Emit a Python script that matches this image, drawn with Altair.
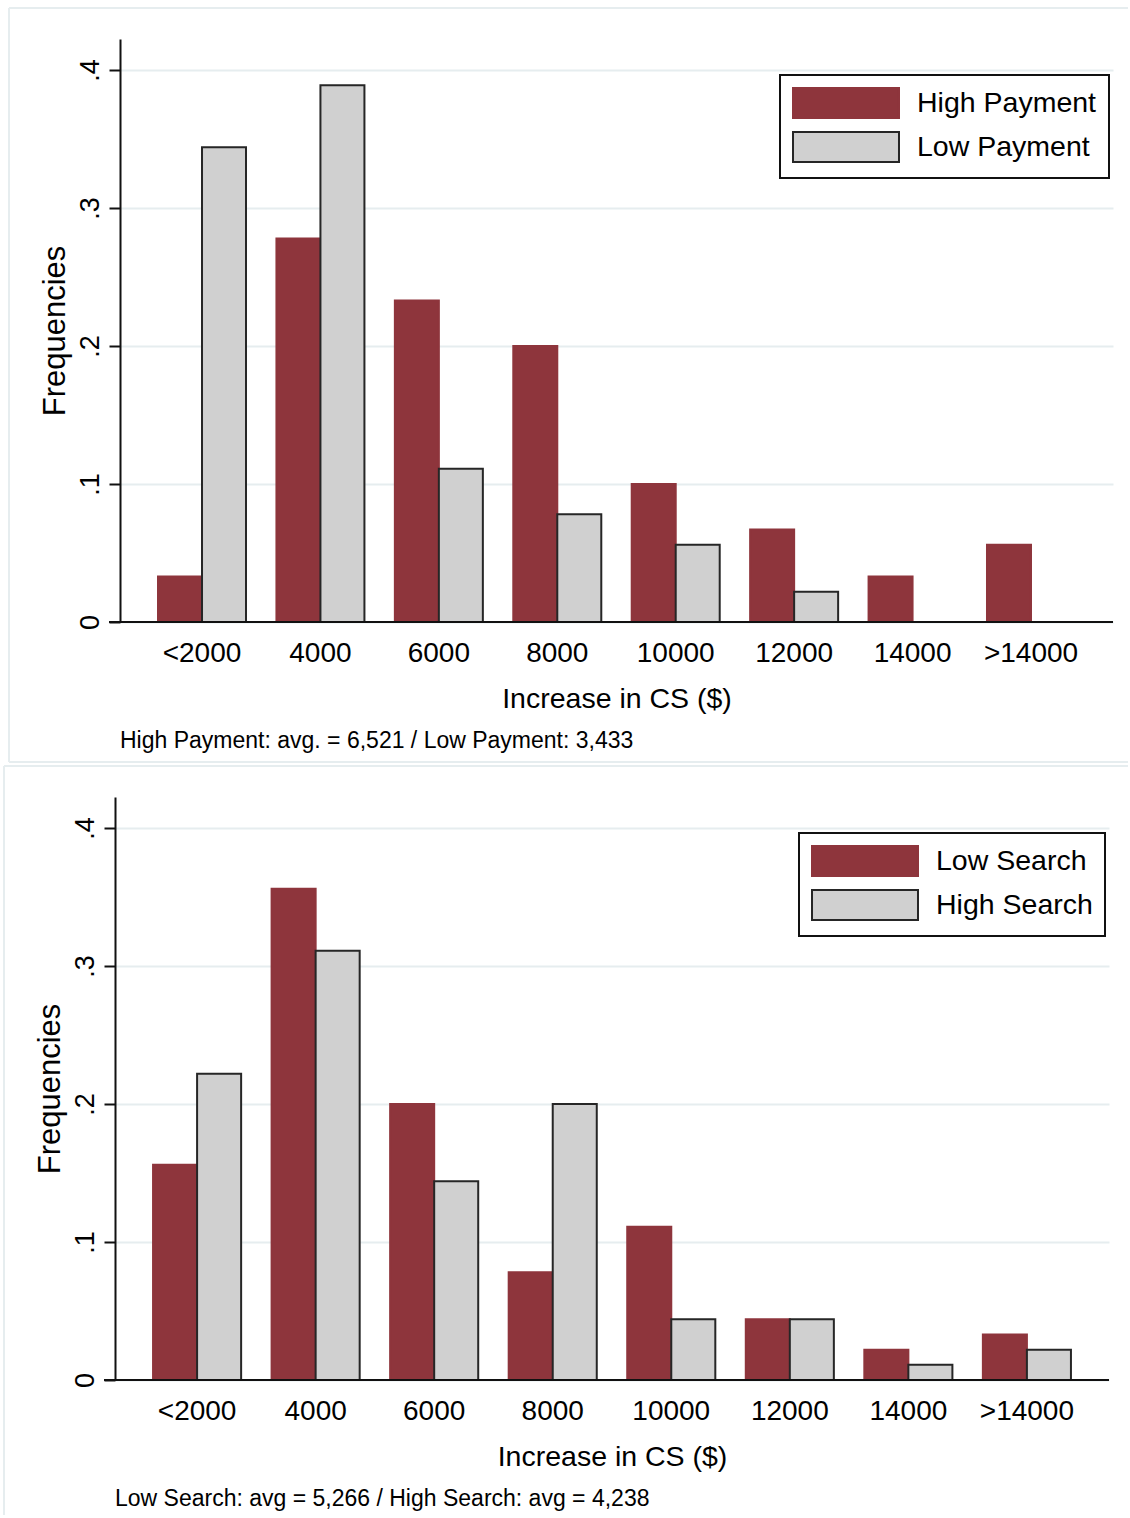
import altair as alt
import pandas as pd

# Class intervals of the increase in consumer surplus
bins = ["<2000", "4000", "6000", "8000", "10000", "12000", "14000", ">14000"]

# Upper panel: payment treatments
pay_groups = ["High Payment", "Low Payment"]
pay_high = [0.033, 0.278, 0.233, 0.200, 0.100, 0.067, 0.033, 0.056]
pay_low = [0.344, 0.389, 0.111, 0.078, 0.056, 0.022, 0.0, 0.0]
pay_note = "High Payment: avg. = 6,521 / Low Payment: 3,433"

# Lower panel: search treatments
search_groups = ["Low Search", "High Search"]
search_low = [0.156, 0.356, 0.200, 0.078, 0.111, 0.044, 0.022, 0.033]
search_high = [0.222, 0.311, 0.144, 0.200, 0.044, 0.044, 0.011, 0.022]
search_note = "Low Search: avg = 5,266 / High Search: avg = 4,238"

y_ticks = [0, 0.1, 0.2, 0.3, 0.4]

RED = "#8e353c"
GRAY = "#d0d0d0"
EDGE = "#262626"
FRAME = "#e6edef"
FONT = "Liberation Sans"
SWATCH = "M-3.533,-1H3.533V1H-3.533Z"
PLOT_H = 583


def long_table(groups, first, second):
    rows = []
    for i, b in enumerate(bins):
        rows.append({"bin": b, "group": groups[0], "freq": first[i]})
        rows.append({"bin": b, "group": groups[1], "freq": second[i]})
    return pd.DataFrame(rows)


def one_row():
    return pd.DataFrame({"k": [0]})


def panel(groups, first, second, note, width, axis_shift, x_range,
          legend_x, frame_left, frame_top, frame_bottom, note_x):
    data = long_table(groups, first, second)

    legend = alt.Legend(
        title=None, orient="none", legendX=legend_x, legendY=36,
        symbolType=SWATCH, symbolSize=900, symbolStrokeWidth=2,
        symbolOffset=38, labelOffset=55, labelFontSize=28.5,
        labelFont=FONT, labelColor="black", labelLimit=400,
        rowPadding=6, padding=12, strokeColor="#111", fillColor="white",
    )

    bars = alt.Chart(data).mark_bar(strokeWidth=2).encode(
        x=alt.X(
            "bin:N", sort=bins,
            scale=alt.Scale(range=x_range, paddingInner=0.257,
                            paddingOuter=0.321, align=0.5),
            axis=alt.Axis(
                title="Increase in CS ($)", domain=False, ticks=False,
                tickSize=0, labelAngle=0, labelFontSize=28, labelPadding=17,
                labelColor="black", titleFontSize=28.5,
                titleFontWeight="normal", titlePadding=17,
                titleColor="black", grid=False,
            ),
        ),
        xOffset=alt.XOffset("group:N", sort=groups,
                            scale=alt.Scale(domain=groups, paddingInner=0,
                                            paddingOuter=0)),
        y=alt.Y(
            "freq:Q",
            scale=alt.Scale(domain=[0, 0.4225], nice=False),
            axis=alt.Axis(
                title="Frequencies", values=y_ticks,
                labelExpr="datum.value == 0 ? '0' : '.' + round(datum.value * 10)",
                offset=axis_shift, labelAngle=-90, labelAlign="center",
                labelBaseline="alphabetic", labelPadding=11,
                labelFontSize=27, labelColor="black", labelFlush=False,
                labelOverlap=False, tickSize=11, tickWidth=2,
                tickColor="#111", domainColor="#111", domainWidth=2,
                grid=True, gridColor=FRAME, gridWidth=2,
                titleFontSize=31, titleFontWeight="normal",
                titleColor="black", titlePadding=5, titleBaseline="bottom",
            ),
        ),
        fill=alt.Fill("group:N", sort=groups,
                      scale=alt.Scale(domain=groups, range=[RED, GRAY]),
                      legend=legend),
        stroke=alt.Stroke("group:N", sort=groups,
                          scale=alt.Scale(domain=groups, range=[RED, EDGE]),
                          legend=legend),
    )

    # x axis line, running a little past the y axis on the left
    axis_line = alt.Chart(one_row()).mark_rule(color="#111", strokeWidth=2).encode(
        x=alt.value(-axis_shift - 11),
        x2=alt.value(width),
        y=alt.value(PLOT_H),
    )

    # thin frame around the panel (left, top and, when given, bottom edges)
    edge_bottom = frame_bottom if frame_bottom is not None else 718
    layers = [
        alt.Chart(one_row()).mark_rule(color=FRAME, strokeWidth=2).encode(
            x=alt.value(frame_left), y=alt.value(frame_top), y2=alt.value(edge_bottom)
        ),
        alt.Chart(one_row()).mark_rule(color=FRAME, strokeWidth=2).encode(
            x=alt.value(frame_left), x2=alt.value(1013), y=alt.value(frame_top)
        ),
    ]
    if frame_bottom is not None:
        layers.append(
            alt.Chart(one_row()).mark_rule(color=FRAME, strokeWidth=2).encode(
                x=alt.value(frame_left), x2=alt.value(1013), y=alt.value(frame_bottom)
            )
        )

    caption = alt.Chart(one_row()).mark_text(
        align="left", baseline="alphabetic", fontSize=23, font=FONT, color="black"
    ).encode(x=alt.value(note_x), y=alt.value(709), text=alt.value(note))

    return alt.layer(*layers, bars, axis_line, caption).properties(
        width=width, height=PLOT_H
    )


top = panel(pay_groups, pay_high, pay_low, pay_note, width=998, axis_shift=-5,
            x_range=[5, 998], legend_x=665, frame_left=-106, frame_top=-31,
            frame_bottom=723, note_x=5)
bottom = panel(search_groups, search_low, search_high, search_note, width=994,
               axis_shift=0, x_range=[0, 994], legend_x=684, frame_left=-111,
               frame_top=-31, frame_bottom=None, note_x=0)

chart = (
    alt.vconcat(top, bottom, spacing=0)
    .resolve_scale(fill="independent", stroke="independent",
                   xOffset="independent", x="independent", y="independent")
    .resolve_legend(fill="independent", stroke="independent")
    .configure(padding={"left": 2, "top": 6, "right": 0, "bottom": 0}, font=FONT)
    .configure_view(stroke="transparent")
    .configure_axis(labelFont=FONT, titleFont=FONT)
    .configure_legend(strokeWidth=2)
)

chart.save("out.html", embed_options={"renderer": "svg", "actions": False})
